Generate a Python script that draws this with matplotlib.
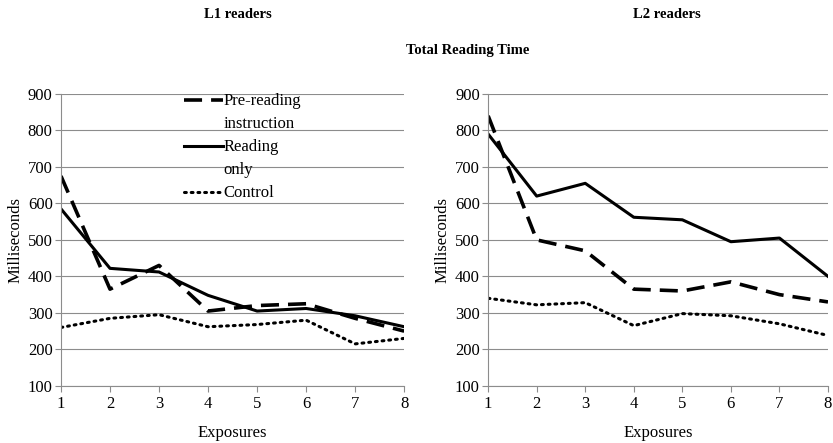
import numpy as np
import matplotlib
matplotlib.use('Agg')
import matplotlib.pyplot as plt
from matplotlib.lines import Line2D

plt.rcParams['font.family'] = 'Liberation Serif'

exposures = [1, 2, 3, 4, 5, 6, 7, 8]
# L1 readers
l1_pre = [675, 365, 430, 305, 320, 325, 285, 250]
l1_read = [585, 422, 412, 348, 305, 312, 292, 262]
l1_ctrl = [260, 285, 295, 262, 268, 280, 215, 230]
# L2 readers
l2_pre = [840, 500, 470, 365, 360, 385, 350, 330]
l2_read = [790, 620, 655, 562, 555, 495, 505, 400]
l2_ctrl = [340, 322, 328, 265, 298, 292, 270, 238]

fig = plt.figure(figsize=(8.33, 4.43), dpi=100)
ax1 = fig.add_axes([0.0732, 0.129, 0.412, 0.659])
ax2 = fig.add_axes([0.586, 0.129, 0.408, 0.659])

dash_style = dict(color='black', lw=2.6, dashes=(5, 2.5))
solid_style = dict(color='black', lw=2.2)
dot_style = dict(color='black', lw=2.2, linestyle=(0, (0.6, 1.6)), dash_capstyle='round')

def draw(ax, pre, read, ctrl):
    ax.plot(exposures, pre, **dash_style)
    ax.plot(exposures, read, **solid_style)
    ax.plot(exposures, ctrl, **dot_style)
    ax.set_xlim(1, 8)
    ax.set_ylim(100, 900)
    ax.set_yticks(np.arange(100, 1000, 100))
    ax.set_xticks(exposures)
    ax.grid(axis='y', color='#8c8c8c', lw=0.8)
    ax.set_axisbelow(True)
    for s in ['top', 'right']:
        ax.spines[s].set_visible(False)
    ax.spines['left'].set_color('#8c8c8c')
    ax.spines['bottom'].set_color('#8c8c8c')
    ax.tick_params(axis='y', length=4, color='#8c8c8c', labelsize=12, pad=2)
    ax.tick_params(axis='x', length=4, color='#8c8c8c', labelsize=12, pad=3)
    ax.set_xlabel('Exposures', fontsize=12, labelpad=10)
    ax.set_ylabel('Milliseconds', fontsize=12, labelpad=3)

draw(ax1, l1_pre, l1_read, l1_ctrl)
draw(ax2, l2_pre, l2_read, l2_ctrl)

# legend: second lines of labels as entries without handle
blank = Line2D([], [], color='none')
handles = [Line2D([], [], **dash_style), blank,
           Line2D([], [], **solid_style), blank,
           Line2D([], [], **dot_style)]
labels = ['Pre-reading', 'instruction', 'Reading', 'only', 'Control']
ax1.legend(handles, labels, loc='upper left', bbox_to_anchor=(0.335, 1.03), frameon=False,
           fontsize=12, handlelength=2.3, handletextpad=0.05, labelspacing=0.42,
           borderpad=0)

fig.text(0.285, 0.968, 'L1 readers', ha='center', va='center', fontsize=10.5, fontweight='bold')
fig.text(0.80, 0.968, 'L2 readers', ha='center', va='center', fontsize=10.5, fontweight='bold')
fig.text(0.562, 0.885, 'Total Reading Time', ha='center', va='center', fontsize=10.5, fontweight='bold')

fig.savefig('out.png', dpi=100)
